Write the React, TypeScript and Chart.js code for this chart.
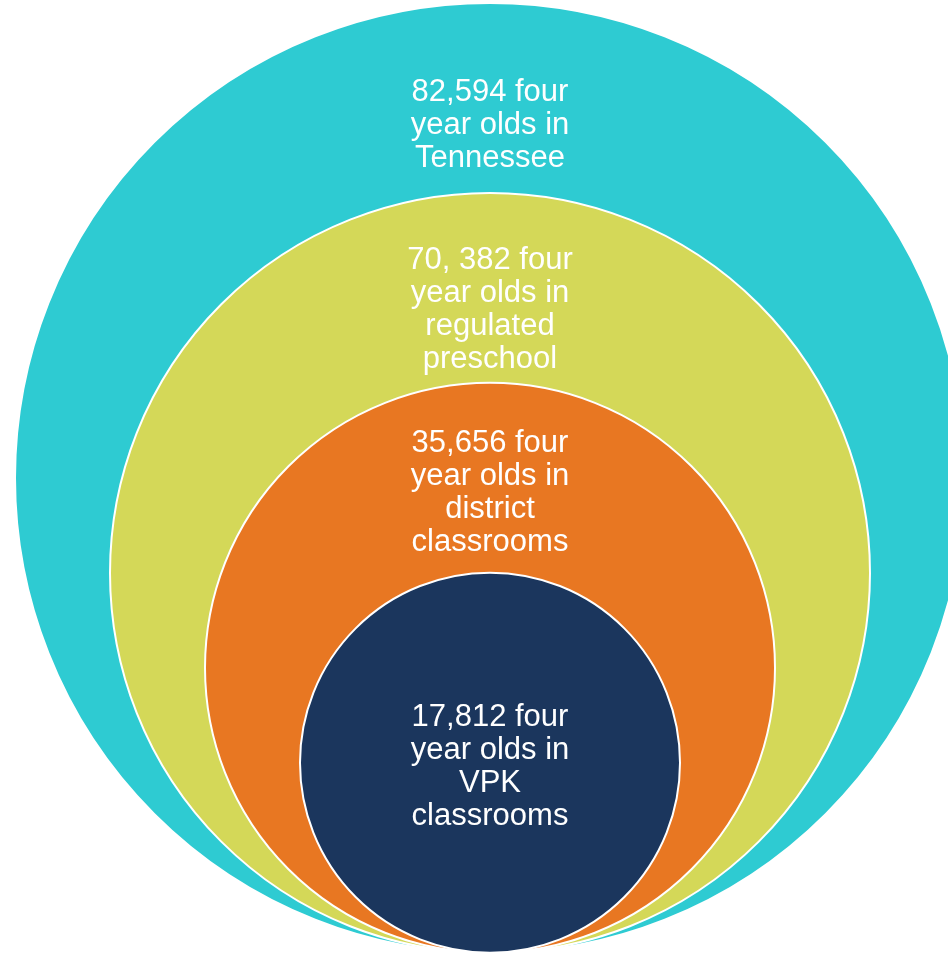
import React, { useEffect, useRef } from "react";
import { Chart, registerables } from "chart.js";

Chart.register(...registerables);

// Nested circles (schematic radii, outer → inner)
const categories = ["Tennessee", "Regulated preschool", "District classrooms", "VPK classrooms"];
const counts = ["82,594", "70, 382", "35,656", "17,812"];
const radii = [5, 4, 3, 2];
const labelLines = [
  ["82,594 four", "year olds in", "Tennessee"],
  ["70, 382 four", "year olds in", "regulated", "preschool"],
  ["35,656 four", "year olds in", "district", "classrooms"],
  ["17,812 four", "year olds in", "VPK", "classrooms"],
];
const colors = ["#2ECBD2", "#D4D858", "#E87722", "#1B365D"];

export default function App() {
  const ref = useRef<HTMLCanvasElement | null>(null);

  useEffect(() => {
    if (!ref.current) return;
    const firstBaselineOffsets = [98, 76, 69, 153];

    const ringLabels = {
      id: "ringLabels",
      afterDatasetsDraw(ch: any) {
        const ctx = ch.ctx;
        const xs = ch.scales.x;
        const ys = ch.scales.y;
        ctx.save();
        ctx.fillStyle = "#ffffff";
        ctx.textAlign = "center";
        ctx.textBaseline = "alphabetic";
        ctx.font = '31px "Liberation Sans", Arial, sans-serif';
        radii.forEach((r, i) => {
          const cx = xs.getPixelForValue(0);
          const top = ys.getPixelForValue(r * 2);
          labelLines[i].forEach((line, j) => {
            ctx.fillText(line, cx, top + firstBaselineOffsets[i] + j * 33);
          });
        });
        ctx.restore();
      },
    };

    const chart = new Chart(ref.current, {
      type: "scatter",
      data: {
        labels: categories,
        datasets: [
          {
            label: "Four year olds",
            data: radii.map((r) => ({ x: 0, y: r })),
            backgroundColor: colors,
            borderColor: "#ffffff",
            borderWidth: 2,
            pointRadius: (c: any) => {
              const s = c.chart.scales.x;
              const r = radii[c.dataIndex];
              if (!s || r === undefined) return 0;
              return s.getPixelForValue(r) - s.getPixelForValue(0);
            },
            pointHoverRadius: 0,
            clip: false,
          } as any,
        ],
      },
      options: {
        responsive: false,
        animation: false,
        layout: { padding: 0 },
        scales: {
          x: { type: "linear", display: false, min: -490 / 95, max: 458 / 95 },
          y: { type: "linear", display: false, min: -0.5 / 95, max: 953.5 / 95 },
        },
        plugins: {
          legend: { display: false },
          tooltip: { enabled: false },
        },
      },
      plugins: [ringLabels],
    });
    return () => chart.destroy();
  }, []);

  return (
    <div style={{ position: "absolute", left: 0, top: 0, width: 948, height: 953, background: "#ffffff" }}>
      <canvas ref={ref} width={948} height={953} style={{ width: 948, height: 953, display: "block" }} />
    </div>
  );
}
